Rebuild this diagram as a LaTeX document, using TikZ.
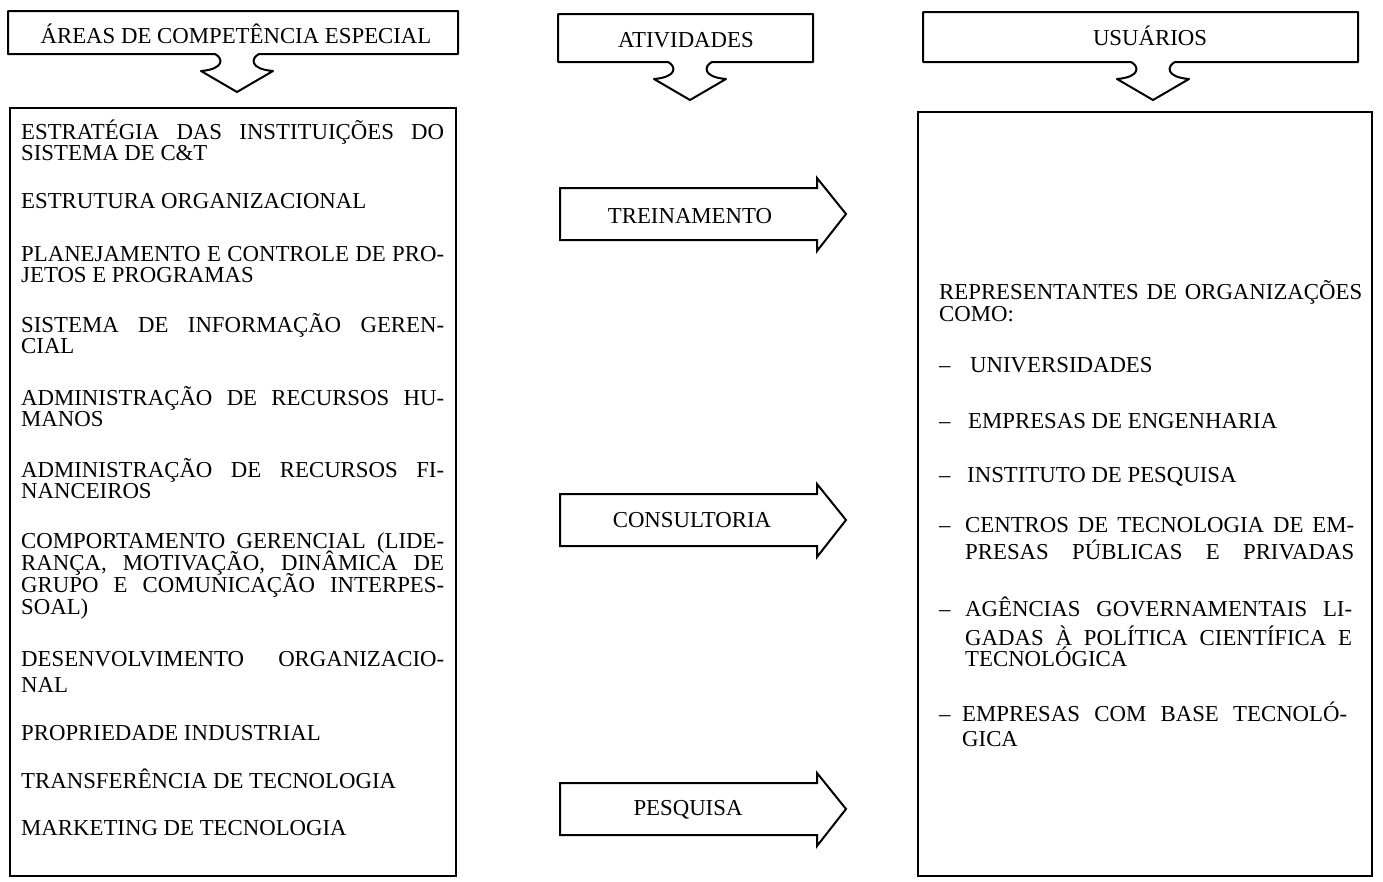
\documentclass[tikz,border=0pt]{standalone}
\usepackage{fontspec}
\setmainfont{Liberation Serif}
\usetikzlibrary{calc}
\tikzset{
  hdr/.style={draw=black,line width=2pt,line join=round},
  blk/.style={draw=black,line width=2pt,line join=miter},
  frame/.style={draw=black,line width=2pt},
  item/.style={anchor=base west,inner sep=0pt,font=\fontsize{22.8}{22.8}\selectfont},
  head/.style={anchor=base,inner sep=0pt,font=\fontsize{22.8}{22.8}\selectfont},
}
% justified line
\newcommand{\jl}[2][423]{\makebox[#1pt][s]{#2}}
% title box with notched arrow below: x1,y1,x2,y2,tip x
\newcommand{\hdrbox}[5]{%
  \draw[hdr] (#1,#2) -- (#3,#2) -- (#3,#4) -- ({#5+22},#4)
    .. controls ({#5+14},{#4+4}) and ({#5+12},{#4+15}) .. ({#5+36},{#4+17})
    -- (#5,{#4+38}) -- ({#5-36},{#4+17})
    .. controls ({#5-12},{#4+15}) and ({#5-14},{#4+4}) .. ({#5-22},#4)
    -- (#1,#4) -- cycle;}
% block arrow: x1, body top, head x, body bottom, tip x
\newcommand{\blkarrow}[5]{%
  \draw[blk] (#1,#2) -- (#3,#2) -- (#3,{#2-10}) -- (#5,{(#2+#4)/2})
    -- (#3,{#4+11}) -- (#3,#4) -- (#1,#4) -- cycle;}

\begin{document}
\begin{tikzpicture}[x=1pt,y=-1pt]
\useasboundingbox (0,0) rectangle (1383,881);
% headers
\hdrbox{8}{11}{458}{54}{237}
\hdrbox{558}{14}{813}{62}{690}
\hdrbox{923}{12}{1358}{62}{1153}
\node[head] (areasHd) at (236,43) {ÁREAS DE COMPETÊNCIA ESPECIAL};
\node[head] (ativHd) at (686,47) {ATIVIDADES};
\node[head] (usuHd) at (1150,45) {USUÁRIOS};
% main boxes
\draw[frame] (10,108) rectangle (456,876);
\draw[frame] (918,112) rectangle (1372,876);
% activities
\blkarrow{560}{188}{817}{240}{846}
\blkarrow{560}{494}{817}{546}{846}
\blkarrow{560}{783}{817}{835}{846}
\node[head] (treina) at (690,223) {TREINAMENTO};
\node[head] (consult) at (692,527) {CONSULTORIA};
\node[head] (pesq) at (688,815) {PESQUISA};
% areas
\foreach \yb/\txt [count=\i] in {
  139/{\jl{ESTRATÉGIA DAS INSTITUIÇÕES DO}},
  160/{SISTEMA DE C\&T},
  208/{ESTRUTURA ORGANIZACIONAL},
  261/{\jl{PLANEJAMENTO E CONTROLE DE PRO-}},
  282/{JETOS E PROGRAMAS},
  332/{\jl{SISTEMA DE INFORMAÇÃO GEREN-}},
  353/{CIAL},
  405/{\jl{ADMINISTRAÇÃO DE RECURSOS HU-}},
  426/{MANOS},
  477/{\jl{ADMINISTRAÇÃO DE RECURSOS FI-}},
  498/{NANCEIROS},
  548/{\jl{COMPORTAMENTO GERENCIAL (LIDE-}},
  570/{\jl{RANÇA, MOTIVAÇÃO, DINÂMICA DE}},
  592/{\jl{GRUPO E COMUNICAÇÃO INTERPES-}},
  614/{SOAL)},
  666/{\jl{DESENVOLVIMENTO ORGANIZACIO-}},
  692/{NAL},
  740/{PROPRIEDADE INDUSTRIAL},
  788/{TRANSFERÊNCIA DE TECNOLOGIA},
  835/{MARKETING DE TECNOLOGIA}}
  {\node[item] (area\i) at (21,\yb) {\txt};}
% users
\foreach \yb/\xb/\txt [count=\i] in {
  299/939/{\jl{REPRESENTANTES DE ORGANIZAÇÕES}},
  321/939/{COMO:},
  372/970/{UNIVERSIDADES},
  428/968/{EMPRESAS DE ENGENHARIA},
  482/967/{INSTITUTO DE PESQUISA},
  532/965/{\jl[389]{CENTROS DE TECNOLOGIA DE EM-}},
  559/965/{\jl[389]{PRESAS PÚBLICAS E PRIVADAS}},
  616/965/{\jl[387]{AGÊNCIAS GOVERNAMENTAIS LI-}},
  645/965/{\jl[387]{GADAS À POLÍTICA CIENTÍFICA E}},
  666/965/{TECNOLÓGICA},
  721/962/{\jl[385]{EMPRESAS COM BASE TECNOLÓ-}},
  746/962/{GICA}}
  {\node[item] (user\i) at (\xb,\yb) {\txt};}
\foreach \yb [count=\i] in {372,428,482,532,616,721}
  \node[item] (dash\i) at (939,\yb) {–};
\end{tikzpicture}
\end{document}
